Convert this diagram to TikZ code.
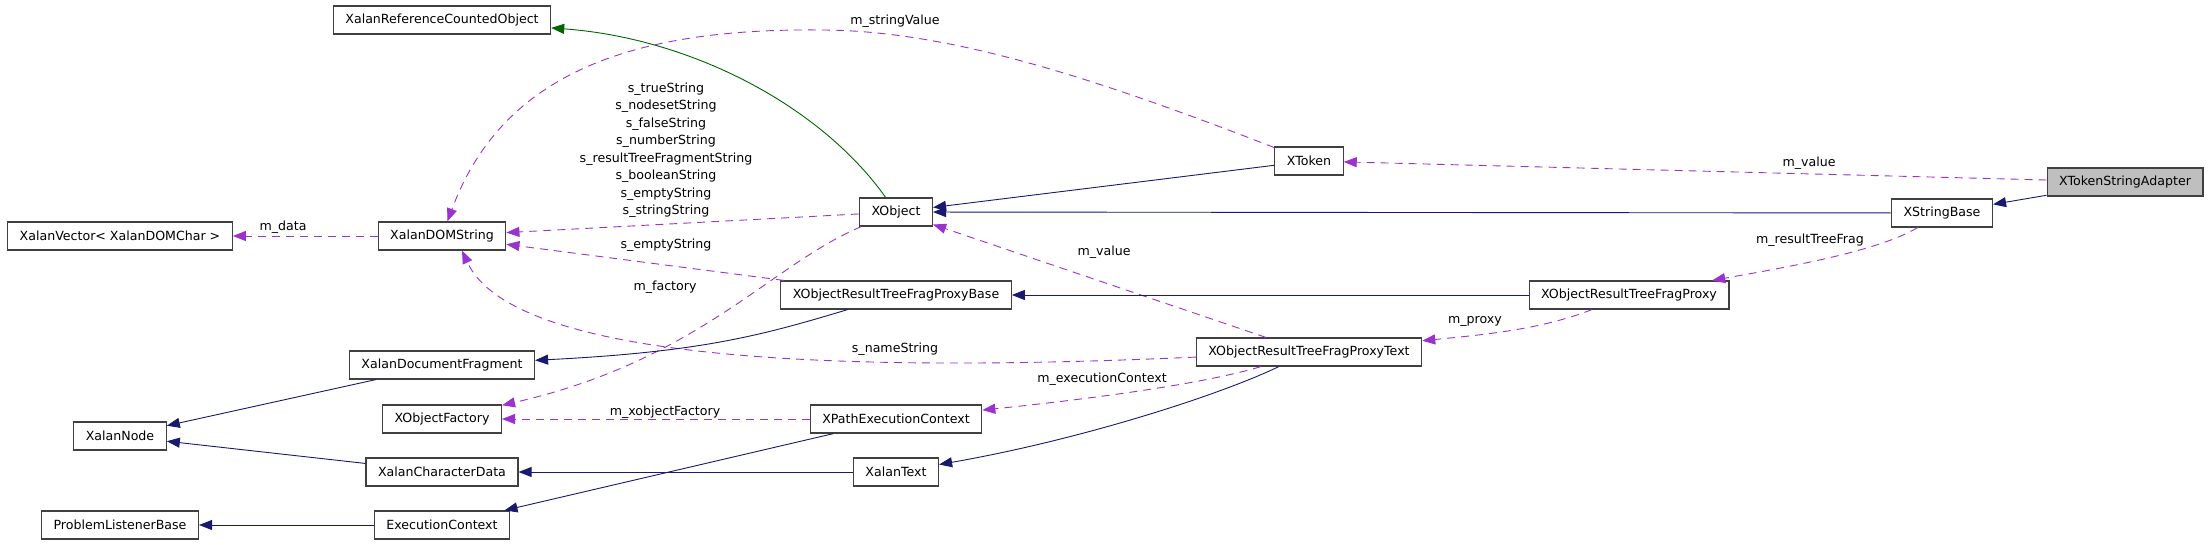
\documentclass[tikz,border=0pt]{standalone}
\usepackage{fontspec}
\setmainfont{DejaVu Sans}
\usepackage{tikz}
\usetikzlibrary{arrows.meta}
\definecolor{inherit}{HTML}{191970}
\definecolor{tmplgreen}{HTML}{006400}
\definecolor{usage}{HTML}{9A32CD}
\definecolor{boxline}{HTML}{404040}
\definecolor{focus}{HTML}{BFBFBF}

\begin{document}
\begin{tikzpicture}[x=1pt,y=-1pt,font=\fontsize{12.6}{17.5}\selectfont,
cls/.style={draw=boxline,line width=1.2pt,fill=white,minimum height=28pt,inner xsep=12pt,inner ysep=3pt},
inh/.style={-{Triangle[length=13pt,width=10pt]},draw=inherit,line width=0.9pt},
tmpl/.style={-{Triangle[length=13pt,width=10pt]},draw=tmplgreen,line width=0.9pt},
use/.style={-{Triangle[length=13pt,width=10pt]},draw=usage,line width=0.9pt,dash pattern=on 8pt off 6pt},
lbl/.style={inner sep=1pt,align=center}]
\useasboundingbox[fill=white] (0,0) rectangle (2211,545);
\node[cls] (refcounted) at (442,20) {XalanReferenceCountedObject};
\node[cls] (xalanvector) at (120,236) {XalanVector< XalanDOMChar >};
\node[cls] (xalandomstring) at (442,236) {XalanDOMString};
\node[cls] (xalandocfrag) at (442,365) {XalanDocumentFragment};
\node[cls] (xobjectfactory) at (442,419) {XObjectFactory};
\node[cls] (xalannode) at (120,436) {XalanNode};
\node[cls] (xalanchardata) at (442,472) {XalanCharacterData};
\node[cls] (problemlistener) at (120,525) {ProblemListenerBase};
\node[cls] (execcontext) at (442,525) {ExecutionContext};
\node[cls] (xobject) at (896,212) {XObject};
\node[cls] (proxybase) at (896,295) {XObjectResultTreeFragProxyBase};
\node[cls] (xpathctx) at (896,419) {XPathExecutionContext};
\node[cls] (xalantext) at (896,472) {XalanText};
\node[cls] (xtoken) at (1309,161) {XToken};
\node[cls] (proxytext) at (1309,352) {XObjectResultTreeFragProxyText};
\node[cls] (proxyfrag) at (1629,295) {XObjectResultTreeFragProxy};
\node[cls] (xstringbase) at (1942,213) {XStringBase};
\node[cls,fill=focus] (tokadapter) at (2125,182) {XTokenStringAdapter};
\node[lbl] (lbdata) at (283,227) {m\_data};
\node[lbl] (lbstring) at (895,21) {m\_stringValue};
\node[lbl] (lbstatic) at (666,150) {s\_trueString\\s\_nodesetString\\s\_falseString\\s\_numberString\\s\_resultTreeFragmentString\\s\_booleanString\\s\_emptyString\\s\_stringString};
\node[lbl] (lbempty) at (666,245) {s\_emptyString};
\node[lbl] (lbfactory) at (665,287) {m\_factory};
\node[lbl] (lbvalue) at (1104,252) {m\_value};
\node[lbl] (lbname) at (895,349) {s\_nameString};
\node[lbl] (lbxfactory) at (665,412) {m\_xobjectFactory};
\node[lbl] (lbexec) at (1102,379) {m\_executionContext};
\node[lbl] (lbproxy) at (1475,321) {m\_proxy};
\node[lbl] (lbtokvalue) at (1809,163) {m\_value};
\node[lbl] (lbfrag) at (1810,240) {m\_resultTreeFrag};
\draw[inh] (tokadapter) -- (xstringbase);
\draw[inh] (xstringbase) -- (xobject);
\draw[inh] (xtoken) -- (xobject);
\draw[tmpl] (xobject) .. controls (820,105) and (690,38) .. (refcounted);
\draw[use] (tokadapter) -- (xtoken);
\draw[use] (xtoken) .. controls (1100,80) and (950,30) .. (820,30) .. controls (620,28) and (500,80) .. (xalandomstring);
\draw[use] (xobject) -- (xalandomstring);
\draw[use] (proxybase) -- (xalandomstring);
\draw[use] (xobject) .. controls (770,265) and (700,360) .. (xobjectfactory);
\draw[use] (proxytext) -- (xobject);
\draw[use] (proxytext) .. controls (800,375) and (510,355) .. ([xshift=20pt]xalandomstring.south);
\draw[use] (xstringbase) .. controls (1880,250) and (1800,265) .. (proxyfrag);
\draw[inh] (proxyfrag) -- (proxybase);
\draw[use] (proxyfrag) .. controls (1540,330) and (1480,335) .. (proxytext);
\draw[inh] (proxybase) .. controls (760,336) and (700,352) .. (xalandocfrag);
\draw[use] (proxytext) .. controls (1200,385) and (1080,400) .. (xpathctx);
\draw[inh] (proxytext) .. controls (1220,395) and (1080,440) .. (xalantext);
\draw[use] (xpathctx) -- (xobjectfactory);
\draw[inh] (xpathctx) -- (execcontext);
\draw[inh] (xalantext) -- (xalanchardata);
\draw[inh] (xalanchardata) -- (xalannode);
\draw[inh] (xalandocfrag) -- (xalannode);
\draw[inh] (execcontext) -- (problemlistener);
\draw[use] (xalandomstring) -- (xalanvector);
\end{tikzpicture}
\end{document}
